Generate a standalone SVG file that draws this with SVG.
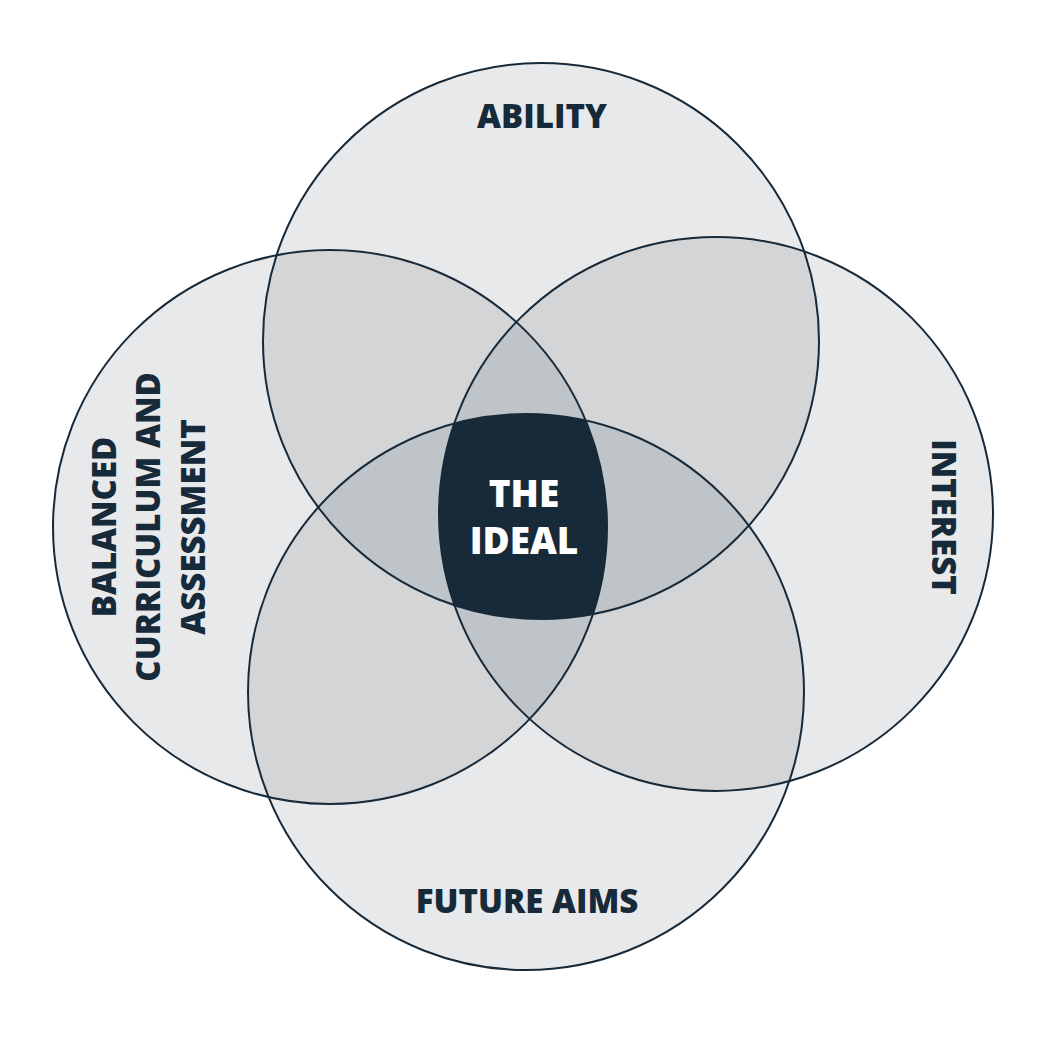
<svg xmlns="http://www.w3.org/2000/svg" xmlns:xlink="http://www.w3.org/1999/xlink" width="1047" height="1047" viewBox="0 0 1047 1047">
  <style>
    .lbl { font-family: "Open Sans", "Liberation Sans", sans-serif; font-weight: 800; font-size: 33px; fill: #172a3a; text-anchor: middle; }
    .ctr { font-family: "Open Sans", "Liberation Sans", sans-serif; font-weight: 800; font-size: 37px; fill: #ffffff; text-anchor: middle; }
    .ring { fill: none; stroke: #172a3a; stroke-width: 2; }
    .one { fill: #e8e9eb; }
    .two { fill: #d4d5d7; }
    .three { fill: #bec4c8; }
    .four { fill: #172a3a; }
  </style>
  <defs>
    <circle id="sA" cx="541" cy="341" r="278"/>
    <circle id="sL" cx="330" cy="527" r="277"/>
    <circle id="sR" cx="716" cy="514" r="277"/>
    <circle id="sB" cx="526" cy="692" r="278"/>
    <clipPath id="cA"><use xlink:href="#sA"/></clipPath>
    <clipPath id="cL"><use xlink:href="#sL"/></clipPath>
    <clipPath id="cR"><use xlink:href="#sR"/></clipPath>
    <clipPath id="cB"><use xlink:href="#sB"/></clipPath>
  </defs>
  <rect width="1047" height="1047" fill="#ffffff"/>
  <g id="fills">
    <use xlink:href="#sA" class="one"/>
    <use xlink:href="#sL" class="one"/>
    <use xlink:href="#sR" class="one"/>
    <use xlink:href="#sB" class="one"/>
    <g clip-path="url(#cA)">
      <use xlink:href="#sL" class="two"/>
      <use xlink:href="#sR" class="two"/>
      <use xlink:href="#sB" class="two"/>
    </g>
    <g clip-path="url(#cB)">
      <use xlink:href="#sL" class="two"/>
      <use xlink:href="#sR" class="two"/>
    </g>
    <g clip-path="url(#cL)">
      <use xlink:href="#sR" class="two"/>
    </g>
    <g clip-path="url(#cA)">
      <g clip-path="url(#cL)">
        <use xlink:href="#sR" class="three"/>
        <use xlink:href="#sB" class="three"/>
      </g>
      <g clip-path="url(#cR)">
        <use xlink:href="#sB" class="three"/>
      </g>
    </g>
    <g clip-path="url(#cL)">
      <g clip-path="url(#cR)">
        <use xlink:href="#sB" class="three"/>
      </g>
    </g>
  </g>
  <g id="ability">
    <use xlink:href="#sA" class="ring"/>
    <text class="lbl" x="542" y="128">ABILITY</text>
  </g>
  <g id="balanced">
    <use xlink:href="#sL" class="ring"/>
    <text class="lbl" transform="translate(116,527) rotate(-90)">BALANCED</text>
    <text class="lbl" transform="translate(160,527) rotate(-90)">CURRICULUM AND</text>
    <text class="lbl" transform="translate(205,527) rotate(-90)">ASSESSMENT</text>
  </g>
  <g id="interest">
    <use xlink:href="#sR" class="ring"/>
    <text class="lbl" transform="translate(932,517) rotate(90)">INTEREST</text>
  </g>
  <g id="future-aims">
    <use xlink:href="#sB" class="ring"/>
    <text class="lbl" x="527" y="913">FUTURE AIMS</text>
  </g>
  <g id="the-ideal">
    <g clip-path="url(#cA)">
      <g clip-path="url(#cL)">
        <g clip-path="url(#cR)">
          <use xlink:href="#sB" class="four"/>
        </g>
      </g>
    </g>
    <text class="ctr" x="524" y="507">THE</text>
    <text class="ctr" x="524" y="554">IDEAL</text>
  </g>
</svg>
